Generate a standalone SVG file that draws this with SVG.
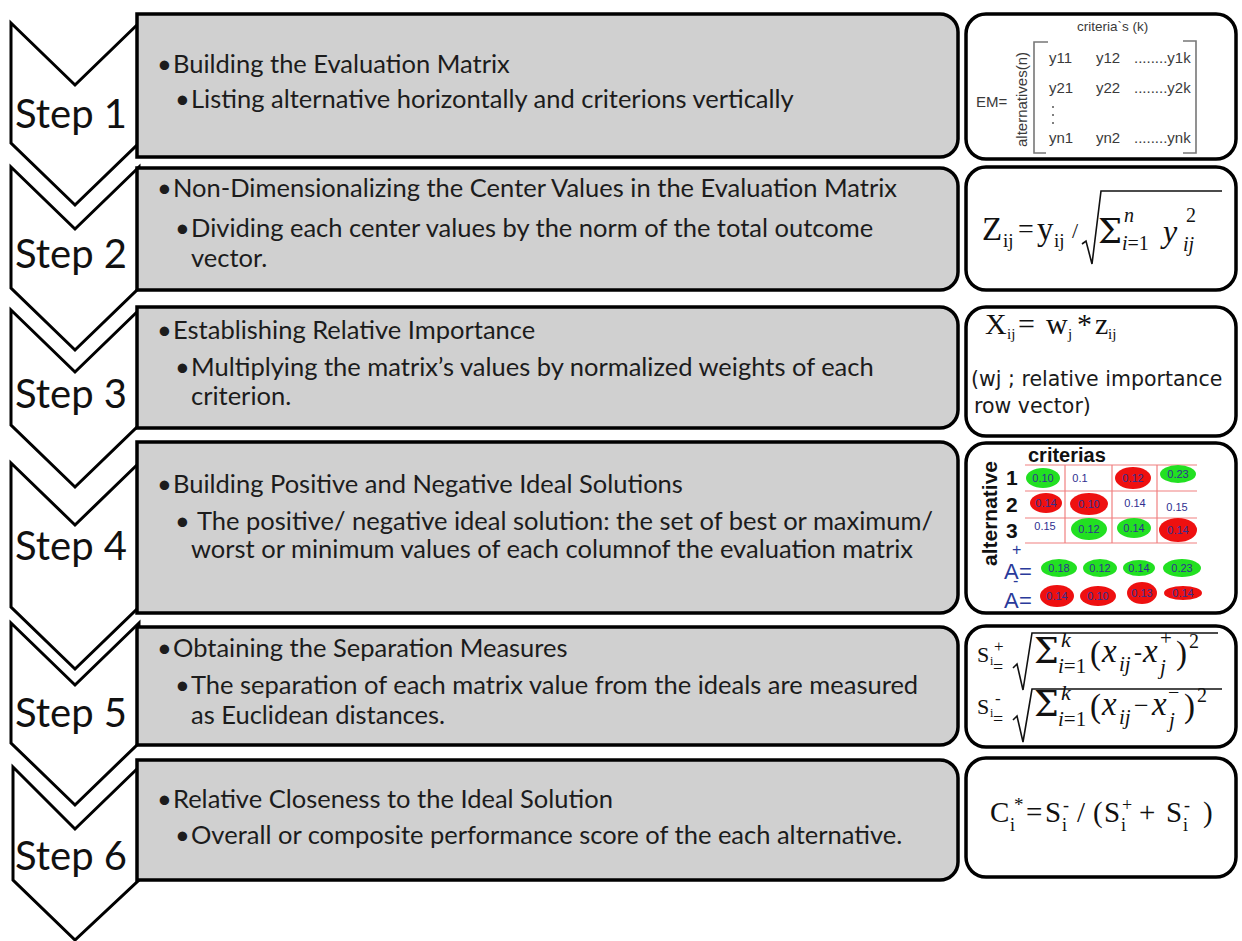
<svg xmlns="http://www.w3.org/2000/svg" width="1242" height="941" viewBox="0 0 1242 941">
<style>
.chev{fill:#fff;stroke:#000;stroke-width:3;stroke-linejoin:miter}
.gbox{fill:#d0d0d0;stroke:#000;stroke-width:3.5}
.wbox{fill:#fff;stroke:#000;stroke-width:3.5}
.step{font-family:Lato,"Liberation Sans",sans-serif;font-size:40px;fill:#111}
.body{font-family:Lato,"Liberation Sans",sans-serif;font-size:25.5px;fill:#1c1c1c}
.ar{font-family:"Liberation Sans",Arial,sans-serif;fill:#3a3a3a}
.tm{font-family:"Liberation Serif","Times New Roman",serif;fill:#111}
.sig{font-family:"DejaVu Serif","Liberation Serif",serif;fill:#111}
.it{font-style:italic}
.rad{fill:none;stroke:#111;stroke-width:1.6}
.brk{fill:none;stroke:#777;stroke-width:1.6}
.grid{stroke:#f08080;stroke-width:1.2}
.gr{fill:#22e022}
.rd{fill:#ee1010}
.val{font-family:"Liberation Sans",Arial,sans-serif;font-size:11px;fill:#303090;text-anchor:middle}
.tah{font-family:"DejaVu Sans",Verdana,sans-serif;font-size:20.5px;fill:#1a1a1a}
</style>

<g id="connectors">
<polygon class="chev" points="11,23 75,85 139,23 139,143 75,205 11,143"/>
<polygon class="chev" points="11,167 75,229 139,167 139,288 75,350 11,288"/>
<polygon class="chev" points="11,310 75,372 139,310 139,425 75,487 11,425"/>
<polygon class="chev" points="11,463 75,525 139,463 139,607 75,669 11,607"/>
<polygon class="chev" points="11,623 75,685 139,623 139,743 75,805 11,743"/>
<polygon class="chev" points="13,767 75,829 139,767 139,880 75,940 13,880"/>
</g>

<g id="step-labels">
<text class="step" x="15" y="128">Step 1</text>
<text class="step" x="15" y="268">Step 2</text>
<text class="step" x="15" y="408">Step 3</text>
<text class="step" x="15" y="560">Step 4</text>
<text class="step" x="15" y="727">Step 5</text>
<text class="step" x="15" y="870">Step 6</text>
</g>

<g id="box1">
<path class="gbox" d="M137,14 H940 A18,18 0 0 1 958,32 V139 A18,18 0 0 1 940,157 H137 Z"/>
<text class="body" x="157" y="73">•</text><text class="body" x="173" y="73">Building the Evaluation Matrix</text>
<text class="body" x="175" y="108">•</text><text class="body" x="191" y="108">Listing alternative horizontally and criterions vertically</text>
</g>
<g id="box2">
<path class="gbox" d="M137,168 H940 A18,18 0 0 1 958,186 V272 A18,18 0 0 1 940,290 H137 Z"/>
<text class="body" x="157" y="197">•</text><text class="body" x="173" y="197">Non-Dimensionalizing the Center Values in the Evaluation Matrix</text>
<text class="body" x="175" y="237">•</text><text class="body" x="191" y="237">Dividing each center values by the norm of the total outcome</text>
<text class="body" x="191" y="267">vector.</text>
</g>
<g id="box3">
<path class="gbox" d="M137,307 H940 A18,18 0 0 1 958,325 V410 A18,18 0 0 1 940,428 H137 Z"/>
<text class="body" x="157" y="339">•</text><text class="body" x="173" y="339">Establishing Relative Importance</text>
<text class="body" x="175" y="376">•</text><text class="body" x="191" y="376">Multiplying the matrix’s values by normalized weights of each</text>
<text class="body" x="191" y="405">criterion.</text>
</g>
<g id="box4">
<path class="gbox" d="M137,442 H940 A18,18 0 0 1 958,460 V595 A18,18 0 0 1 940,613 H137 Z"/>
<text class="body" x="157" y="493">•</text><text class="body" x="173" y="493">Building Positive and Negative Ideal Solutions</text>
<text class="body" x="175" y="530">•</text><text class="body" x="197" y="530">The positive/ negative ideal solution: the set of best or maximum/</text>
<text class="body" x="191" y="558">worst or minimum values of each columnof the evaluation matrix</text>
</g>
<g id="box5">
<path class="gbox" d="M137,627 H940 A18,18 0 0 1 958,645 V727 A18,18 0 0 1 940,745 H137 Z"/>
<text class="body" x="157" y="657">•</text><text class="body" x="173" y="657">Obtaining the Separation Measures</text>
<text class="body" x="175" y="694">•</text><text class="body" x="191" y="694">The separation of each matrix value from the ideals are measured</text>
<text class="body" x="191" y="724">as Euclidean distances.</text>
</g>
<g id="box6">
<path class="gbox" d="M137,760 H940 A18,18 0 0 1 958,778 V862 A18,18 0 0 1 940,880 H137 Z"/>
<text class="body" x="157" y="808">•</text><text class="body" x="173" y="808">Relative Closeness to the Ideal Solution</text>
<text class="body" x="175" y="844">•</text><text class="body" x="191" y="844">Overall or composite performance score of the each alternative.</text>
</g>

<g id="formula1">
<rect class="wbox" x="966" y="14" width="270" height="145" rx="20"/>
<text class="ar" x="1077" y="31" font-size="13.5">criteria`s (k)</text>
<text class="ar" x="976" y="107" font-size="15">EM=</text>
<text class="ar" font-size="15" transform="translate(1027,147) rotate(-90)">alternatives(n)</text>
<path class="brk" d="M1048,42 H1034 V153 H1046"/>
<path class="brk" d="M1183,41 H1196 V153 H1183"/>
<g class="ar" font-size="15">
<text x="1049" y="63">y11</text><text x="1096" y="63">y12</text><text x="1134" y="63">........y1k</text>
<text x="1049" y="93">y21</text><text x="1096" y="93">y22</text><text x="1134" y="93">........y2k</text>
<text x="1049" y="143">yn1</text><text x="1096" y="143">yn2</text><text x="1134" y="143">........ynk</text>
</g>
<g fill="#555"><circle cx="1053" cy="107" r="1"/><circle cx="1053" cy="115" r="1"/><circle cx="1053" cy="123" r="1"/></g>
</g>

<g id="formula2">
<rect class="wbox" x="966" y="167" width="270" height="123" rx="20"/>
<text class="tm" x="982" y="240" font-size="33">Z</text>
<text class="tm" x="1003" y="247" font-size="19">ij</text>
<text class="tm" x="1018" y="238" font-size="28">=</text>
<text class="tm" x="1037" y="240" font-size="33">y</text>
<text class="tm" x="1054" y="247" font-size="19">ij</text>
<text class="tm" x="1072" y="238" font-size="22">/</text>
<polyline class="rad" points="1082,244 1086,241 1092,264 1101,191 1222,191"/>
<text class="sig" x="1098" y="243" font-size="34">Σ</text>
<text class="tm it" x="1124" y="222" font-size="20">n</text>
<text class="tm it" x="1122" y="250" font-size="20">i<tspan font-style="normal">=1</tspan></text>
<text class="tm it" x="1163" y="242" font-size="32">y</text>
<text class="tm" x="1186" y="222" font-size="20">2</text>
<text class="tm it" x="1183" y="251" font-size="20">ij</text>
</g>

<g id="formula3">
<rect class="wbox" x="966" y="307" width="270" height="129" rx="20"/>
<text class="tm" x="985" y="334" font-size="30">X</text>
<text class="tm" x="1007" y="339" font-size="15">ij</text>
<text class="tm" x="1018" y="334" font-size="30">=</text>
<text class="tm" x="1046" y="334" font-size="30">w</text>
<text class="tm" x="1068" y="339" font-size="15">j</text>
<text class="tm" x="1077" y="334" font-size="30">*</text>
<text class="tm" x="1095" y="334" font-size="30">z</text>
<text class="tm" x="1108" y="339" font-size="15">ij</text>
<text class="tah" x="971" y="386">(wj ; relative importance</text>
<text class="tah" x="974" y="413">row vector)</text>
</g>

<g id="formula4">
<rect class="wbox" x="966" y="443" width="270" height="170" rx="20"/>
<text x="1028" y="462" font-family="'Liberation Sans',Arial,sans-serif" font-weight="bold" font-size="20" fill="#111">criterias</text>
<text font-family="'Liberation Sans',Arial,sans-serif" font-weight="bold" font-size="21" fill="#111" transform="translate(997,566) rotate(-90)">alternative</text>
<g font-family="'Liberation Sans',Arial,sans-serif" font-weight="bold" font-size="21" fill="#111">
<text x="1006" y="485">1</text><text x="1006" y="512">2</text><text x="1006" y="538">3</text>
</g>
<g class="grid">
<line x1="1025" y1="465" x2="1197" y2="465"/>
<line x1="1025" y1="491" x2="1197" y2="491"/>
<line x1="1025" y1="518" x2="1197" y2="518"/>
<line x1="1025" y1="543" x2="1197" y2="543"/>
<line x1="1065" y1="465" x2="1065" y2="543"/>
<line x1="1112" y1="465" x2="1112" y2="543"/>
<line x1="1157" y1="465" x2="1157" y2="543"/>
</g>
<ellipse class="gr" cx="1043" cy="478" rx="17" ry="10"/>
<ellipse class="rd" cx="1133" cy="478" rx="18" ry="11"/>
<ellipse class="gr" cx="1178" cy="474" rx="18" ry="9"/>
<ellipse class="rd" cx="1046" cy="503" rx="16" ry="10"/>
<ellipse class="rd" cx="1089" cy="504" rx="19" ry="11"/>
<ellipse class="gr" cx="1089" cy="529" rx="18" ry="11"/>
<ellipse class="gr" cx="1134" cy="528" rx="17" ry="10"/>
<ellipse class="rd" cx="1178" cy="530" rx="19" ry="12"/>
<ellipse class="gr" cx="1059" cy="568" rx="18" ry="9"/>
<ellipse class="gr" cx="1100" cy="568" rx="17" ry="9"/>
<ellipse class="gr" cx="1139" cy="568" rx="16" ry="8"/>
<ellipse class="gr" cx="1182" cy="568" rx="19" ry="9"/>
<ellipse class="rd" cx="1057" cy="596" rx="17" ry="11"/>
<ellipse class="rd" cx="1098" cy="596" rx="18" ry="10"/>
<ellipse class="rd" cx="1142" cy="593" rx="15" ry="11"/>
<ellipse class="rd" cx="1183" cy="593" rx="19" ry="7"/>
<g class="val">
<text x="1043" y="482">0.10</text><text x="1080" y="482">0.1</text><text x="1133" y="482">0.12</text><text x="1178" y="478">0.23</text>
<text x="1046" y="507">0.14</text><text x="1089" y="508">0.10</text><text x="1135" y="507">0.14</text><text x="1177" y="511">0.15</text>
<text x="1045" y="530">0.15</text><text x="1089" y="533">0.12</text><text x="1134" y="532">0.14</text><text x="1178" y="534">0.14</text>
<text x="1059" y="572">0.18</text><text x="1100" y="572">0.12</text><text x="1139" y="572">0.14</text><text x="1182" y="572">0.23</text>
<text x="1057" y="600">0.14</text><text x="1098" y="600">0.10</text><text x="1142" y="597">0.13</text><text x="1183" y="597">0.14</text>
</g>
<g font-family="'Liberation Sans',Arial,sans-serif" fill="#2a3a9a">
<text x="1004" y="579" font-size="22">A</text>
<text x="1012" y="555" font-size="16">+</text>
<text x="1019" y="579" font-size="22">=</text>
<text x="1004" y="608" font-size="22">A</text>
<text x="1013" y="586" font-size="16">-</text>
<text x="1019" y="608" font-size="22">=</text>
</g>
</g>

<g id="formula5">
<rect class="wbox" x="966" y="626" width="270" height="121" rx="20"/>
<text class="tm" x="977" y="662" font-size="22">S</text>
<text class="tm" x="990" y="665" font-size="12">i</text>
<text class="tm" x="994" y="652" font-size="17">+</text>
<text class="tm" x="993" y="673" font-size="18">=</text>
<polyline class="rad" points="1013,668 1017,664 1023,690 1032,633 1218,633"/>
<text class="sig" x="1034" y="663" font-size="35">Σ</text>
<text class="tm it" x="1061" y="647" font-size="22">k</text>
<text class="tm it" x="1058" y="673" font-size="21">i<tspan font-style="normal">=1</tspan></text>
<text class="tm" x="1090" y="664" font-size="33">(</text>
<text class="tm it" x="1102" y="662" font-size="33">x</text>
<text class="tm it" x="1119" y="671" font-size="21">ij</text>
<text class="tm" x="1134" y="660" font-size="24">-</text>
<text class="tm it" x="1143" y="662" font-size="33">x</text>
<text class="tm it" x="1160" y="674" font-size="21">j</text>
<text class="tm" x="1160" y="645" font-size="21">+</text>
<text class="tm" x="1176" y="664" font-size="33">)</text>
<text class="tm" x="1189" y="648" font-size="20">2</text>

<text class="tm" x="977" y="714" font-size="22">S</text>
<text class="tm" x="990" y="717" font-size="12">i</text>
<text class="tm" x="995" y="704" font-size="17">-</text>
<text class="tm" x="993" y="725" font-size="18">=</text>
<polyline class="rad" points="1013,720 1017,716 1023,742 1032,689 1222,689"/>
<text class="sig" x="1034" y="716" font-size="35">Σ</text>
<text class="tm it" x="1061" y="700" font-size="22">k</text>
<text class="tm it" x="1058" y="726" font-size="21">i<tspan font-style="normal">=1</tspan></text>
<text class="tm" x="1090" y="717" font-size="33">(</text>
<text class="tm it" x="1102" y="715" font-size="33">x</text>
<text class="tm it" x="1119" y="724" font-size="21">ij</text>
<text class="tm" x="1134" y="714" font-size="26">−</text>
<text class="tm it" x="1152" y="715" font-size="33">x</text>
<text class="tm it" x="1169" y="727" font-size="21">j</text>
<text class="tm" x="1168" y="699" font-size="20">−</text>
<text class="tm" x="1184" y="717" font-size="33">)</text>
<text class="tm" x="1197" y="702" font-size="20">2</text>
</g>

<g id="formula6">
<rect class="wbox" x="966" y="758" width="270" height="119" rx="20"/>
<text class="tm" font-size="29" y="822">
<tspan x="990">C</tspan><tspan x="1010" y="831" font-size="18">i</tspan><tspan x="1014" y="811" font-size="19">*</tspan><tspan x="1026" y="822">=</tspan><tspan x="1045">S</tspan><tspan x="1062" y="831" font-size="18">i</tspan><tspan x="1063" y="811" font-size="18">-</tspan><tspan x="1077" y="822">/</tspan><tspan x="1093">(</tspan><tspan x="1104">S</tspan><tspan x="1121" y="831" font-size="18">i</tspan><tspan x="1122" y="811" font-size="18">+</tspan><tspan x="1139" y="822">+</tspan><tspan x="1166">S</tspan><tspan x="1183" y="831" font-size="18">i</tspan><tspan x="1184" y="811" font-size="18">-</tspan><tspan x="1203" y="822">)</tspan>
</text>
</g>
</svg>
